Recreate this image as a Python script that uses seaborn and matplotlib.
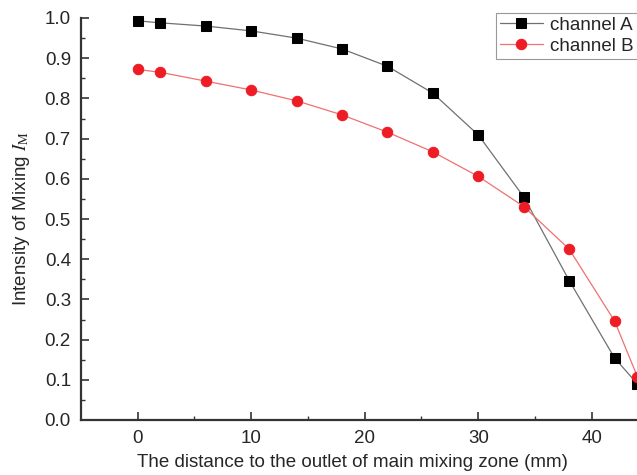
import pandas as pd
import matplotlib.pyplot as plt
import seaborn as sns

# distance to outlet (mm)
distance = [0, 2, 6, 10, 14, 18, 22, 26, 30, 34, 38, 42, 44]
channel_a = [0.993, 0.988, 0.980, 0.968, 0.950, 0.923, 0.880, 0.813, 0.709, 0.555, 0.347, 0.154, 0.090]
channel_b = [0.872, 0.865, 0.843, 0.821, 0.794, 0.759, 0.716, 0.667, 0.606, 0.531, 0.425, 0.246, 0.108]

df = pd.DataFrame({"distance": distance, "channel A": channel_a, "channel B": channel_b})

sns.set_style("ticks")
plt.rcParams["font.family"] = ["Liberation Sans", "DejaVu Sans"]
plt.rcParams["mathtext.fontset"] = "stix"

fig = plt.figure(figsize=(6.37, 4.75), dpi=100)

# axes extend past the right edge of the figure (cropped like the original)
xmin, xmax = -5, 50
px_per_unit = 11.36
left_px, bottom_px, top_px = 80.7, 55, 18
width_px = (xmax - xmin) * px_per_unit
ax = fig.add_axes([left_px / 637, bottom_px / 475, width_px / 637, (475 - bottom_px - top_px) / 475])

sns.lineplot(data=df, x="distance", y="channel A", ax=ax, color="#707070", lw=0.9,
             marker="s", markersize=6.5, markerfacecolor="black", markeredgecolor="black",
             label="channel A", clip_on=False)
sns.lineplot(data=df, x="distance", y="channel B", ax=ax, color="#f07070", lw=0.9,
             marker="o", markersize=7.5, markerfacecolor="#ee1c25", markeredgecolor="#ee1c25",
             label="channel B", clip_on=False)

ax.set_xlim(xmin, xmax)
ax.set_ylim(0, 1.0)
ax.set_xticks([0, 10, 20, 30, 40])
ax.set_xticks([5, 15, 25, 35, 45], minor=True)
ax.set_yticks([i / 10 for i in range(11)])
ax.set_yticks([i / 20 for i in range(1, 20, 2)], minor=True)
ax.set_yticklabels([f"{i / 10:.1f}" for i in range(11)])

ax.tick_params(which="major", direction="in", length=6, width=1.2, labelsize=13.5,
               color="#333333", pad=7)
ax.tick_params(which="minor", direction="in", length=3, width=1.0, color="#333333")
for side in ["left", "bottom"]:
    ax.spines[side].set_linewidth(1.6)
    ax.spines[side].set_color("#333333")
sns.despine(ax=ax, top=True, right=True)

ax.set_xlabel("The distance to the outlet of main mixing zone (mm)", fontsize=13.5)
ax.set_ylabel(r"Intensity of Mixing $I_\mathrm{M}$", fontsize=13.5)
ax.xaxis.set_label_coords((352 - left_px) / width_px, -0.085)
ax.yaxis.set_label_coords((32 - left_px) / width_px, 0.5)

leg = ax.legend(loc="upper left", bbox_to_anchor=(496 / 637, 1 - 13 / 475),
                bbox_transform=fig.transFigure, frameon=True, fancybox=False,
                fontsize=13.5, handlelength=2.3, borderpad=0.2, labelspacing=0.2,
                handletextpad=0.4, borderaxespad=0)
leg.get_frame().set_edgecolor("#808080")
leg.get_frame().set_linewidth(0.8)

plt.savefig("out.png", dpi=100)
plt.close()
